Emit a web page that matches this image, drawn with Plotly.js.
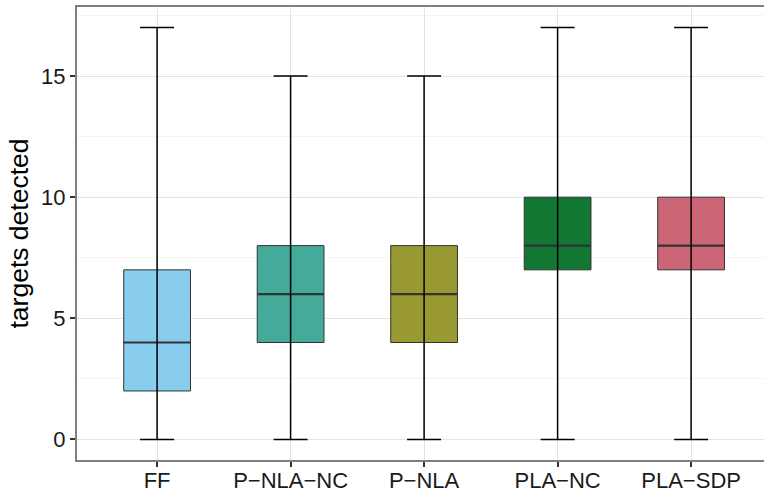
<!DOCTYPE html>
<html>
<head>
<meta charset="utf-8">
<script src="https://cdn.plot.ly/plotly-3.0.1.min.js"></script>
<style>html,body{margin:0;padding:0;background:#fff;}#chart{width:764px;height:494px;}</style>
</head>
<body>
<div id="chart"></div>
<script>
const categories = ["FF", "P\u2212NLA\u2212NC", "P\u2212NLA", "PLA\u2212NC", "PLA\u2212SDP"];
const whiskerLow = [0, 0, 0, 0, 0];
const q1 = [2, 4, 4, 7, 7];
const median = [4, 6, 6, 8, 8];
const q3 = [7, 8, 8, 10, 10];
const whiskerHigh = [17, 15, 15, 17, 17];
const colors = ["#88CCEE", "#44AA99", "#999933", "#117733", "#CC6677"];

const traces = [];
categories.forEach((c, i) => {
  traces.push({
    type: 'box',
    x: [c],
    q1: [q1[i]], median: [median[i]], q3: [q3[i]],
    lowerfence: [q1[i]], upperfence: [q3[i]],
    width: 0.5,
    whiskerwidth: 0,
    fillcolor: colors[i],
    line: {color: '#333333', width: 1},
    boxpoints: false,
    hoverinfo: 'skip',
    showlegend: false
  });
});
// whiskers with caps (drawn over the boxes)
traces.push({
  type: 'scatter', mode: 'markers',
  x: categories, y: median,
  marker: {size: 0.1, color: 'rgba(0,0,0,0)'},
  error_y: {
    type: 'data', symmetric: false,
    array: whiskerHigh.map((v, i) => v - median[i]),
    arrayminus: whiskerLow.map((v, i) => median[i] - v),
    width: 17, thickness: 1.5, color: '#000000'
  },
  hoverinfo: 'skip', showlegend: false
});
// thick median lines (drawn as degenerate boxes on top)
categories.forEach((c, i) => {
  traces.push({
    type: 'box',
    x: [c],
    q1: [median[i]], median: [median[i]], q3: [median[i]],
    lowerfence: [median[i]], upperfence: [median[i]],
    width: 0.5,
    whiskerwidth: 0,
    fillcolor: 'rgba(0,0,0,0)',
    line: {color: '#333333', width: 2.2},
    boxpoints: false,
    hoverinfo: 'skip',
    showlegend: false
  });
});

const layout = {
  width: 764, height: 494,
  margin: {l: 77, r: 0, t: 7, b: 34},
  paper_bgcolor: '#ffffff', plot_bgcolor: '#ffffff',
  font: {family: 'Liberation Sans, Arial, Helvetica, sans-serif', color: '#1a1a1a'},
  showlegend: false,
  boxmode: 'overlay',
  xaxis: {
    type: 'category',
    range: [-0.6, 4.546],
    showgrid: true, gridcolor: '#e3e3e3', gridwidth: 1,
    showline: true, mirror: true, linecolor: '#7f7f7f', linewidth: 2,
    ticks: 'outside', ticklen: 5, tickcolor: '#333333', tickwidth: 2,
    ticklabelstandoff: -5,
    tickfont: {size: 22, color: '#1a1a1a'},
    zeroline: false, fixedrange: true
  },
  yaxis: {
    range: [-0.85, 17.85],
    tickmode: 'linear', tick0: 0, dtick: 5,
    showgrid: true, gridcolor: '#e3e3e3', gridwidth: 1,
    minor: {tick0: 0, dtick: 2.5, showgrid: true, gridcolor: '#f4f4f4', gridwidth: 1},
    showline: true, mirror: false, linecolor: '#7f7f7f', linewidth: 2,
    ticks: 'outside', ticklen: 5, tickcolor: '#333333', tickwidth: 2,
    tickfont: {size: 22, color: '#1a1a1a'},
    title: {text: 'targets detected', font: {size: 26.5, color: '#000000'}, standoff: 5},
    zeroline: false, fixedrange: true
  }
};
Plotly.newPlot('chart', traces, layout, {staticPlot: true, displayModeBar: false});
</script>
</body>
</html>
